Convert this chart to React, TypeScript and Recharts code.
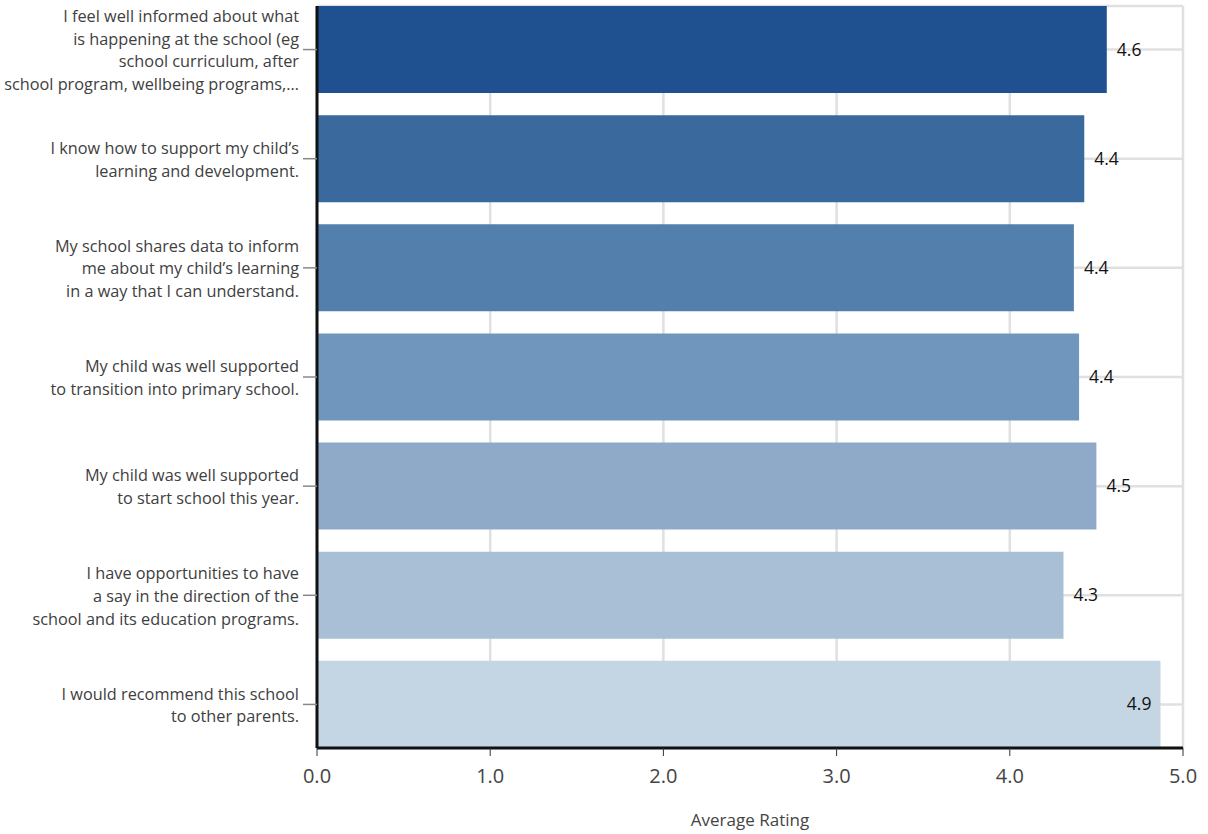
import React from "react";
import { BarChart, Bar, XAxis, YAxis, CartesianGrid, Cell, LabelList, Label } from "recharts";

const categories: string[][] = [
  ["I feel well informed about what", "is happening at the school (eg", "school curriculum, after", "school program, wellbeing programs,…"],
  ["I know how to support my child’s", "learning and development."],
  ["My school shares data to inform", "me about my child’s learning", "in a way that I can understand."],
  ["My child was well supported", "to transition into primary school."],
  ["My child was well supported", "to start school this year."],
  ["I have opportunities to have", "a say in the direction of the", "school and its education programs."],
  ["I would recommend this school", "to other parents."],
];
const ratings: number[] = [4.56, 4.43, 4.37, 4.4, 4.5, 4.31, 4.87];
const valueLabels: string[] = ["4.6", "4.4", "4.4", "4.4", "4.5", "4.3", "4.9"];
const barColors: string[] = ["#1f5191", "#3a699d", "#537fad", "#7096bd", "#8eaac8", "#a9bfd6", "#c4d5e3"];
const xTicks: number[] = [0, 1, 2, 3, 4, 5];
const axisTitle = "Average Rating";

const data = categories.map((c, i) => ({ key: String(i), rating: ratings[i], label: valueLabels[i] }));

const FONT = "'Open Sans', 'Noto Sans', sans-serif";

const YTick = (props: any) => {
  const { x, y, payload } = props;
  const lines = categories[Number(payload.value)] || [];
  const lh = 22.7;
  const start = y - ((lines.length - 1) * lh) / 2;
  const tx = x - 2;
  return (
    <text x={tx} y={start} textAnchor="end" fontFamily={FONT} fontSize={16.3} fill="#404040">
      {lines.map((l, i) => (
        <tspan key={i} x={tx} y={start + i * lh} dy="0.4em">
          {l}
        </tspan>
      ))}
    </text>
  );
};

const XTick = (props: any) => {
  const { x, y, payload } = props;
  return (
    <text x={x} y={y} dy="1.25em" textAnchor="middle" fontFamily={FONT} fontSize={20} fill="#444">
      {Number(payload.value).toFixed(1)}
    </text>
  );
};

const ValueLabel = (props: any) => {
  const { x, y, width, height, index } = props;
  const v = ratings[index];
  const inside = v > 4.7;
  const tx = inside ? x + width - 9 : x + width + 10;
  return (
    <text x={tx} y={y + height / 2} dy="0.35em" textAnchor={inside ? "end" : "start"} fontFamily={FONT} fontSize={17.5} fill="#111">
      {valueLabels[index]}
    </text>
  );
};

export default function App() {
  return (
    <div style={{ position: "absolute", left: 0, top: 0, width: 1208, height: 834, background: "#fff" }}>
      <BarChart
        width={1208}
        height={834}
        data={data}
        layout="vertical"
        margin={{ top: 6, right: 25, bottom: 0, left: 0 }}
        barCategoryGap={11}
      >
        <CartesianGrid stroke="#e0e0e0" strokeWidth={2.5} />
        <XAxis
          type="number"
          domain={[0, 5]}
          ticks={xTicks}
          interval={0}
          height={86}
          axisLine={{ stroke: "#111", strokeWidth: 3 }}
          tickLine={{ stroke: "#333", strokeWidth: 1 }}
          tickSize={8}
          tick={<XTick />}
        >
          <Label value={axisTitle} position="insideBottom" offset={8} fontFamily={FONT} fontSize={17} fill="#444" />
        </XAxis>
        <YAxis
          type="category"
          dataKey="key"
          width={317}
          padding={{ top: -11, bottom: -11 }}
          axisLine={{ stroke: "#111", strokeWidth: 3 }}
          tickLine={{ stroke: "#888", strokeWidth: 1.5 }}
          tickSize={14}
          tick={<YTick />}
          interval={0}
        />
        <Bar dataKey="rating" isAnimationActive={false}>
          {data.map((d, i) => (
            <Cell key={i} fill={barColors[i]} />
          ))}
          <LabelList dataKey="rating" content={<ValueLabel />} />
        </Bar>
      </BarChart>
    </div>
  );
}
